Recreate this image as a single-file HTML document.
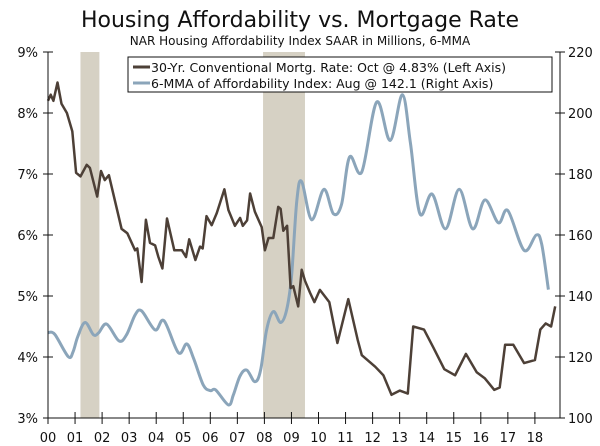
<!DOCTYPE html>
<html><head><meta charset="utf-8"><style>
body{margin:0;background:#fff;}
svg{display:block;font-family:"DejaVu Sans","Liberation Sans",sans-serif;}
</style></head><body>
<svg id="chart" width="600" height="446" viewBox="0 0 600 446">
<text x="300" y="27" text-anchor="middle" font-size="22" fill="#111">Housing Affordability vs. Mortgage Rate</text>
<text x="300" y="45" text-anchor="middle" font-size="12" fill="#111">NAR Housing Affordability Index SAAR in Millions, 6-MMA</text>
<g id="rec"></g>
<g id="lines"></g>
<g id="axes"></g>
<g>
<rect x="128" y="57" width="424" height="35" fill="#fff" stroke="#111" stroke-width="1"/>
<line x1="133" y1="67" x2="150" y2="67" stroke="#4d4037" stroke-width="3"/>
<text x="151" y="72" font-size="12.5" fill="#111">30-Yr. Conventional Mortg. Rate: Oct @ 4.83% (Left Axis)</text>
<line x1="133" y1="83" x2="150" y2="83" stroke="#8ba5ba" stroke-width="3"/>
<text x="151" y="88" font-size="12.5" fill="#111">6-MMA of Affordability Index: Aug @ 142.1 (Right Axis)</text>
</g>
</svg>
<script>
const years=["00","01","02","03","04","05","06","07","08","09","10","11","12","13","14","15","16","17","18"];
const leftTicks=["3%","4%","5%","6%","7%","8%","9%"];
const rightTicks=["100","120","140","160","180","200","220"];
const recessions=[[2001.2,2001.9],[2007.95,2009.5]];
const rateT=[2000.0,2000.1,2000.2,2000.35,2000.5,2000.7,2000.9,2001.04,2001.2,2001.43,2001.55,2001.82,2001.96,2002.1,2002.25,2002.72,2002.93,2003.22,2003.3,2003.46,2003.62,2003.77,2003.96,2004.08,2004.23,2004.4,2004.67,2004.95,2005.1,2005.22,2005.45,2005.62,2005.72,2005.86,2006.05,2006.24,2006.52,2006.67,2006.91,2007.1,2007.2,2007.36,2007.47,2007.65,2007.9,2008.02,2008.15,2008.33,2008.51,2008.6,2008.7,2008.84,2008.97,2009.07,2009.25,2009.38,2009.5,2009.69,2009.85,2010.05,2010.4,2010.7,2011.1,2011.45,2011.6,2012.1,2012.4,2012.7,2013.0,2013.3,2013.5,2013.9,2014.25,2014.65,2015.05,2015.45,2015.85,2016.15,2016.5,2016.7,2016.9,2017.2,2017.6,2018.0,2018.2,2018.4,2018.6,2018.75];
const rateV=[8.2,8.3,8.2,8.5,8.15,8.0,7.7,7.02,6.96,7.15,7.1,6.63,7.05,6.9,6.98,6.1,6.03,5.75,5.78,5.23,6.25,5.87,5.83,5.64,5.45,6.27,5.75,5.75,5.64,5.93,5.59,5.81,5.78,6.31,6.16,6.36,6.75,6.41,6.15,6.28,6.15,6.24,6.68,6.38,6.13,5.75,5.95,5.95,6.46,6.43,6.07,6.15,5.13,5.16,4.83,5.43,5.25,5.05,4.9,5.1,4.9,4.23,4.95,4.28,4.03,3.84,3.7,3.38,3.45,3.4,4.5,4.45,4.15,3.8,3.7,4.05,3.75,3.65,3.46,3.5,4.2,4.2,3.9,3.95,4.45,4.55,4.5,4.83];
const affT=[2000.0,2000.25,2000.75,2000.93,2001.1,2001.37,2001.68,2001.87,2002.17,2002.62,2002.9,2003.22,2003.46,2003.96,2004.29,2004.82,2005.13,2005.38,2005.74,2006.0,2006.2,2006.67,2006.85,2007.1,2007.35,2007.65,2007.86,2008.08,2008.33,2008.6,2008.82,2009.0,2009.2,2009.38,2009.75,2010.2,2010.55,2010.85,2011.15,2011.6,2012.15,2012.65,2013.1,2013.4,2013.75,2014.2,2014.7,2015.2,2015.7,2016.15,2016.65,2017.0,2017.6,2018.05,2018.25,2018.5];
const affV=[128,127.4,120.1,121.8,126.7,131.3,127.3,127.9,130.8,125.3,127.2,133.8,135.1,128.9,131.9,121.4,124.3,119.6,110.8,109,109.2,104.3,107.5,113.8,115.7,111.9,115.7,128.9,134.9,131.3,135.4,146.3,171.5,177.5,165,175,167,170,185.6,180.7,203.6,191,206,190,167,173.4,162,175,162,171.5,164,168,155,160,157,142.1];
const svg=document.getElementById('chart');
const NS='http://www.w3.org/2000/svg';
const X0=48,XW=27.05,L=48,R=560,T=52,B=418;
const x=t=>X0+(t-2000)*XW;
const yL=v=>B-(v-3)*(B-T)/6;
const yR=v=>B-(v-100)*(B-T)/120;
function mk(tag,attrs,parent){const e=document.createElementNS(NS,tag);for(const k in attrs)e.setAttribute(k,attrs[k]);parent.appendChild(e);return e;}
function smooth(pts){let d='M'+pts[0][0].toFixed(1)+','+pts[0][1].toFixed(1);
 for(let i=0;i<pts.length-1;i++){const p0=pts[i-1]||pts[i],p1=pts[i],p2=pts[i+1],p3=pts[i+2]||p2;
  const c1=[p1[0]+(p2[0]-p0[0])/6,p1[1]+(p2[1]-p0[1])/6],c2=[p2[0]-(p3[0]-p1[0])/6,p2[1]-(p3[1]-p1[1])/6];
  d+=' C'+c1.map(v=>v.toFixed(1)).join(',')+' '+c2.map(v=>v.toFixed(1)).join(',')+' '+p2[0].toFixed(1)+','+p2[1].toFixed(1);}
 return d;}
const rec=document.getElementById('rec');
recessions.forEach(r=>{
 const e=mk('rect',{x:x(r[0]),y:T,width:x(r[1])-x(r[0]),height:B-T,fill:'#d6d1c4'},rec);
 
 
});
const lines=document.getElementById('lines');
const a=mk('path',{d:smooth(affT.map((t,i)=>[x(t),yR(affV[i])])),fill:'none',stroke:'#8ba5ba','stroke-width':3,'stroke-linejoin':'round'},lines);


const pr=rateT.map((t,i)=>x(t).toFixed(1)+','+yL(rateV[i]).toFixed(1)).join(' ');
const m=mk('polyline',{points:pr,fill:'none',stroke:'#4d4037','stroke-width':2.5,'stroke-linejoin':'round'},lines);


const ax=document.getElementById('axes');
mk('line',{x1:L,y1:T,x2:L,y2:B,stroke:'#111'},ax);
mk('line',{x1:R,y1:T,x2:R,y2:B,stroke:'#111'},ax);
mk('line',{x1:L,y1:B,x2:R,y2:B,stroke:'#111'},ax);
leftTicks.forEach((s,i)=>{const yy=yL(3+i);mk('line',{x1:L-5,y1:yy,x2:L+5,y2:yy,stroke:'#111'},ax);
 const t=mk('text',{x:L-10,y:yy+5,'text-anchor':'end','font-size':13,fill:'#111'},ax);t.textContent=s;
 
 });
rightTicks.forEach((s,i)=>{const yy=yR(100+20*i);mk('line',{x1:R-5,y1:yy,x2:R+5,y2:yy,stroke:'#111'},ax);
 const t=mk('text',{x:R+8,y:yy+5,'font-size':13,fill:'#111'},ax);t.textContent=s;
 
 });
years.forEach((s,i)=>{const xx=x(2000+i);mk('line',{x1:xx,y1:B-6,x2:xx,y2:B+6,stroke:'#111'},ax);
 const t=mk('text',{x:xx,y:B+24,'text-anchor':'middle','font-size':13,fill:'#111'},ax);t.textContent=s;
 
 });
</script>
</body></html>
